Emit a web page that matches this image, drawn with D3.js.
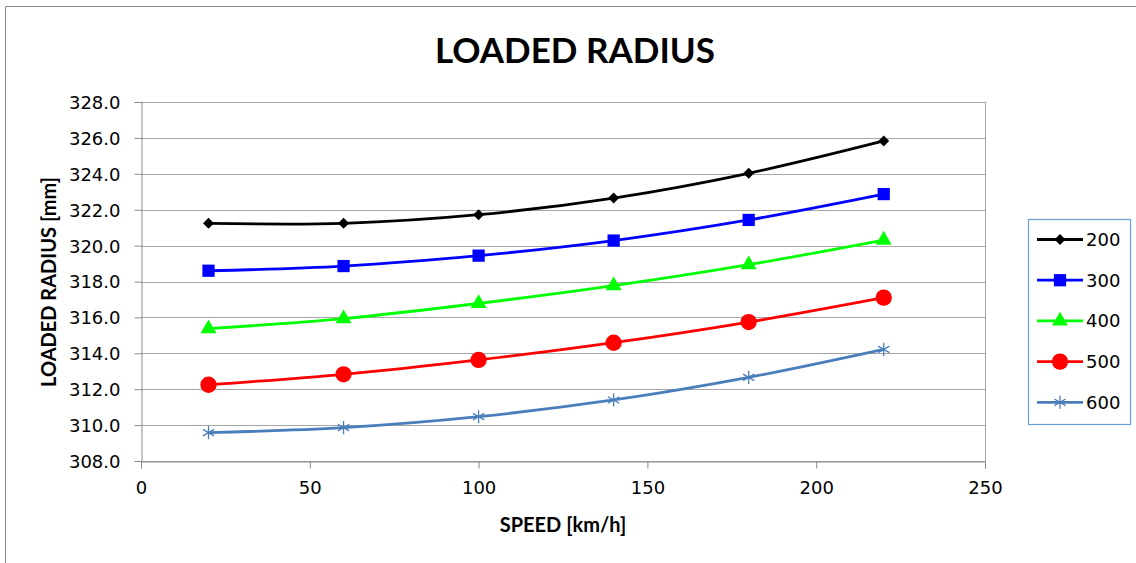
<!DOCTYPE html>
<html>
<head>
<meta charset="utf-8">
<script src="https://cdn.jsdelivr.net/npm/d3@7"></script>
<style>
	body { margin: 0; background: #fff; }
	text { font-family: Lato, "Open Sans", sans-serif; }
</style>
</head>
<body>
<div id="chart"></div>
<script>
const width = 1136;
const height = 563;

// speeds [km/h]
const speeds = [20, 60, 100, 140, 180, 220];
// loaded radius [mm] per load series
const seriesNames = ["200", "300", "400", "500", "600"];
const radius200 = [321.24, 321.24, 321.72, 322.65, 324.03, 325.83];
const radius300 = [318.6, 318.86, 319.44, 320.28, 321.43, 322.87];
const radius400 = [315.37, 315.93, 316.78, 317.77, 318.94, 320.31];
const radius500 = [312.25, 312.83, 313.63, 314.59, 315.74, 317.1];
const radius600 = [309.58, 309.86, 310.47, 311.4, 312.66, 314.22];
const xTicks = [0, 50, 100, 150, 200, 250];
const yTicks = [308, 310, 312, 314, 316, 318, 320, 322, 324, 326, 328];

const COLORS = ["#000000", "#0000ff", "#00ff00", "#ff0000", "#4a7ebb"];
const SYMBOLS = [d3.symbolSquare, d3.symbolSquare, d3.symbolTriangle, d3.symbolCircle, d3.symbolAsterisk];
const SYMBOL_SIZES = [60, 150, 110, 210, 120];
const SYMBOL_ROT = [45, 0, 0, 0, 0];
const TICK_FONT = "'DejaVu Sans', sans-serif";

const series = [radius200, radius300, radius400, radius500, radius600].map((vals, i) => ({
	name: seriesNames[i],
	color: COLORS[i],
	symbol: SYMBOLS[i],
	size: SYMBOL_SIZES[i],
	rot: SYMBOL_ROT[i],
	points: vals.map((v, j) => ({ x: speeds[j], y: v })),
}));

const margin = { left: 141, right: 1136 - 985, top: 102, bottom: 563 - 461 };

const x = d3.scaleLinear().domain([0, 250]).range([margin.left, width - margin.right]);
const y = d3.scaleLinear().domain([308, 328]).range([height - margin.bottom, margin.top]);

let svg = d3
	.select("#chart")
	.append("svg")
	.attr("width", width)
	.attr("height", height);

// outer chart border
svg.append("path")
	.attr("d", `M5.5,${height} V6.5 H${width}`)
	.style("fill", "none")
	.style("stroke", "#8c8c8c");

// title
svg.append("text")
	.attr("x", 575)
	.attr("y", 63)
	.attr("text-anchor", "middle")
	.attr("font-size", "35px")
	.attr("font-weight", "bold")
	.text("LOADED RADIUS");

// gridlines
svg.append("g")
	.selectAll("line")
	.data(yTicks)
	.join("line")
	.attr("x1", x(0))
	.attr("x2", x(250))
	.attr("y1", (d) => Math.round(y(d)) + 0.5)
	.attr("y2", (d) => Math.round(y(d)) + 0.5)
	.style("stroke", "#a6a6a6")
	.style("stroke-width", 1);

// right border of plot area
svg.append("line")
	.attr("x1", Math.round(x(250)) + 0.5)
	.attr("x2", Math.round(x(250)) + 0.5)
	.attr("y1", y(328))
	.attr("y2", y(308))
	.style("stroke", "#a6a6a6");

// axes
const yAxis = d3.axisLeft(y).tickValues(yTicks).tickSize(7).tickPadding(14).tickFormat(d3.format(".1f"));
const xAxis = d3.axisBottom(x).tickValues(xTicks).tickSize(7).tickPadding(13);

const gy = svg.append("g")
	.attr("transform", `translate(${Math.round(x(0)) + 0.5},0)`)
	.call(yAxis);
const gx = svg.append("g")
	.attr("transform", `translate(0,${Math.round(y(308)) + 0.5})`)
	.call(xAxis);

[gx, gy].forEach((g) => {
	g.select(".domain").style("stroke", "#8c8c8c");
	g.selectAll(".tick line").style("stroke", "#8c8c8c");
	g.selectAll(".tick text")
		.style("font-family", TICK_FONT)
		.attr("font-size", "18px")
		.attr("fill", "#000");
});
gy.selectAll(".tick text").attr("dy", "0.36em");

// axis titles
svg.append("text")
	.attr("x", 563)
	.attr("y", 532)
	.attr("text-anchor", "middle")
	.attr("font-size", "20px")
	.attr("font-weight", "bold")
	.text("SPEED [km/h]");

svg.append("text")
	.attr("transform", "translate(56,282) rotate(-90)")
	.attr("text-anchor", "middle")
	.attr("font-size", "20px")
	.attr("font-weight", "bold")
	.text("LOADED RADIUS [mm]");

// lines
const line = d3
	.line()
	.x((d) => x(d.x))
	.y((d) => y(d.y))
	.curve(d3.curveCardinal.tension(0));

const gSeries = svg.append("g")
	.selectAll("g")
	.data(series)
	.join("g");

gSeries.append("path")
	.attr("d", (d) => line(d.points))
	.style("fill", "none")
	.style("stroke", (d) => d.color)
	.style("stroke-width", 2.8);

gSeries.each(function (s) {
	d3.select(this)
		.selectAll(".marker")
		.data(s.points)
		.join("path")
		.attr("class", "marker")
		.attr("transform", (d) => `translate(${x(d.x)},${y(d.y)}) rotate(${s.rot})`)
		.attr("d", d3.symbol().type(s.symbol).size(s.size))
		.style("fill", s.symbol === d3.symbolAsterisk ? "none" : s.color)
		.style("stroke", s.color)
		.style("stroke-width", s.symbol === d3.symbolAsterisk ? 1.3 : 0);
});

// legend
const legend = svg.append("g");
legend.append("rect")
	.attr("x", 1028.5)
	.attr("y", 219.5)
	.attr("width", 102)
	.attr("height", 205)
	.style("fill", "#fff")
	.style("stroke", "#6a9fd8")
	.style("stroke-width", 1.2);

const item = legend
	.selectAll(".item")
	.data(series)
	.join("g")
	.attr("class", "item")
	.attr("transform", (d, i) => `translate(0,${239.5 + i * 40.7})`);

item.append("line")
	.attr("x1", 1037)
	.attr("x2", 1083)
	.style("stroke", (d) => d.color)
	.style("stroke-width", 2.8);

item.append("path")
	.attr("transform", (d) => `translate(1060,0) rotate(${d.rot})`)
	.attr("d", (d) => d3.symbol().type(d.symbol).size(d.size)())
	.style("fill", (d) => (d.symbol === d3.symbolAsterisk ? "none" : d.color))
	.style("stroke", (d) => d.color)
	.style("stroke-width", (d) => (d.symbol === d3.symbolAsterisk ? 1.3 : 0));

item.append("text")
	.attr("x", 1086)
	.attr("dy", "0.36em")
	.attr("font-size", "18px")
	.style("font-family", TICK_FONT)
	.text((d) => d.name);
</script>
</body>
</html>
